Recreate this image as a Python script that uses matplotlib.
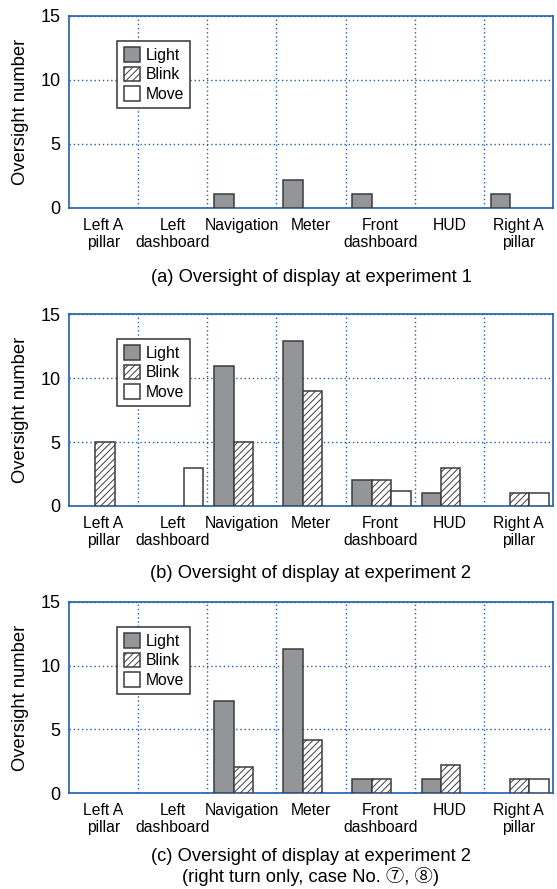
import numpy as np
import matplotlib
matplotlib.use("Agg")
import matplotlib.pyplot as plt
from matplotlib.patches import Patch

plt.rcParams['font.family'] = ['Liberation Sans', 'Noto Sans CJK JP', 'DejaVu Sans']

categories = ["Left A\npillar", "Left\ndashboard", "Navigation", "Meter",
              "Front\ndashboard", "HUD", "Right A\npillar"]
series = ["Light", "Blink", "Move"]

# (a) experiment 1
exp1_light = [0, 0, 1.1, 2.15, 1.1, 0, 1.1]
exp1_blink = [0, 0, 0, 0, 0, 0, 0]
exp1_move = [0, 0, 0, 0, 0, 0, 0]

# (b) experiment 2
exp2_light = [0, 0, 10.9, 12.9, 2.0, 1.05, 0]
exp2_blink = [5, 0, 5, 9, 2.0, 3, 1.05]
exp2_move = [0, 3, 0, 0, 1.2, 0, 1.05]

# (c) experiment 2, right turn only
exp2r_light = [0, 0, 7.2, 11.3, 1.07, 1.07, 0]
exp2r_blink = [0, 0, 2.05, 4.2, 1.07, 2.17, 1.07]
exp2r_move = [0, 0, 0, 0, 0, 0, 1.07]

captions = ["(a) Oversight of display at experiment 1",
            "(b) Oversight of display at experiment 2",
            "(c) Oversight of display at experiment 2\n(right turn only, case No. \u2466, \u2467)"]

blue = "#1f5fae"
edge = "#3c3c3c"
styles = [dict(facecolor="#939598", hatch=None),
          dict(facecolor="white", hatch="/////"),
          dict(facecolor="white", hatch=None)]
plt.rcParams['hatch.color'] = "#3c3c3c"
plt.rcParams['hatch.linewidth'] = 0.7

fig = plt.figure(figsize=(5.57, 8.89), dpi=100)
W, H = 557.0, 889.0
panels = [(16, 208), (314, 506), (602, 793)]
caption_y = [277, 574, 867]
data = [(exp1_light, exp1_blink, exp1_move),
        (exp2_light, exp2_blink, exp2_move),
        (exp2r_light, exp2r_blink, exp2r_move)]

x = np.arange(len(categories))
bw = 0.28
for (top, bottom), vals, cap, cy in zip(panels, data, captions, caption_y):
    ax = fig.add_axes([69 / W, 1 - bottom / H, 484 / W, (bottom - top) / H])
    for k, (v, st) in enumerate(zip(vals, styles)):
        bars = ax.bar(x + 0.52 + (k - 1) * bw, v, bw, facecolor=st["facecolor"],
                      hatch=st["hatch"], edgecolor=edge, linewidth=1.1, zorder=3)
        # empty bars are not drawn in the original
        for p, val in zip(bars.patches, v):
            if val == 0:
                p.set_visible(False)
    ax.set_xlim(0, len(categories))
    ax.set_ylim(0, 15)
    ax.set_yticks([0, 5, 10, 15])
    ax.set_xticks(x + 0.5)
    ax.set_xticklabels(categories, fontsize=11.3)
    ax.tick_params(axis="both", length=0, colors="black")
    ax.tick_params(axis="y", labelsize=13, pad=6)
    ax.tick_params(axis="x", pad=7)
    ax.set_xticks(np.arange(1, len(categories)), minor=True)
    ax.tick_params(axis="x", which="minor", length=0)
    ax.grid(axis="x", which="minor", color=blue, linestyle=(0, (1, 2)), linewidth=1)
    ax.grid(axis="y", which="major", color=blue, linestyle=(0, (1, 2)), linewidth=1)
    ax.grid(axis="x", which="major", visible=False)
    ax.set_axisbelow(True)
    for s in ax.spines.values():
        s.set_color(blue)
        s.set_linewidth(1.2)
    ax.set_ylabel("Oversight number", fontsize=13.2, labelpad=8)

    handles = [Patch(facecolor=st["facecolor"], hatch=st["hatch"], edgecolor=edge,
                     linewidth=1.1, label=name) for st, name in zip(styles, series)]
    leg = ax.legend(handles=handles, loc="upper left", bbox_to_anchor=(0.1, 0.87),
                    fontsize=11.3, frameon=True, fancybox=False, framealpha=1,
                    edgecolor="#333333", handlelength=1.05, handleheight=1.05,
                    handletextpad=0.35, labelspacing=0.25, borderpad=0.4,
                    borderaxespad=0)
    leg.get_frame().set_linewidth(1.1)
    fig.text(311 / W, 1 - cy / H, cap, ha="center", va="center", fontsize=13.2,
             linespacing=1.1)

fig.savefig("out.png", dpi=100)
